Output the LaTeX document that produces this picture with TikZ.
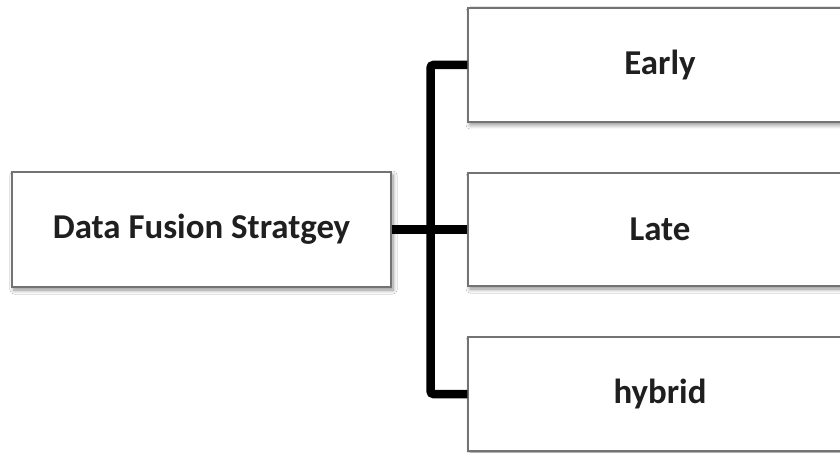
\documentclass[tikz,border=0pt]{standalone}
\usepackage{fontspec}
\setmainfont{Carlito}
\usetikzlibrary{shadows.blur}
\begin{document}
\begin{tikzpicture}[x=1bp,y=-1bp,
  box/.style={draw=black!55, line width=1.3bp, fill=white, inner sep=0pt,
    blur shadow={shadow xshift=2bp, shadow yshift=-3bp, shadow blur steps=6, shadow blur radius=4bp, shadow opacity=45},
    font=\fontsize{35}{40}\selectfont\bfseries, text=black!88},
  conn/.style={line width=8.5bp, black, rounded corners=3bp}]
  \clip (0,0) rectangle (840,453);
  \fill[white] (0,0) rectangle (840,453);
  % root and the three strategies
  \node[box, minimum width=379bp, minimum height=115bp] (root) at (201.5,229.5) {Data Fusion Stratgey};
  \node[box, minimum width=384bp, minimum height=114bp] (early) at (660,65) {Early};
  \node[box, minimum width=384bp, minimum height=113bp] (late) at (660,229.5) {Late};
  \node[box, minimum width=384bp, minimum height=114bp] (hybrid) at (660,394) {hybrid};
  % bracket connector
  \coordinate (trunk) at (430.5,0);
  \draw[conn] (early.west) -- (early.west -| trunk) -- (hybrid.west -| trunk) -- (hybrid.west);
  \draw[conn] (root.east) -- (late.west);
\end{tikzpicture}
\end{document}
